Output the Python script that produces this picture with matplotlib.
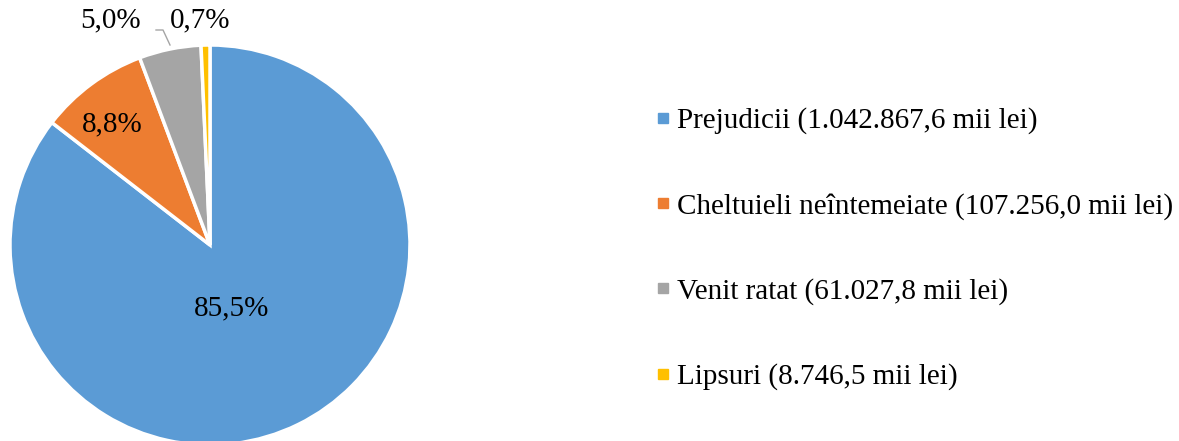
import matplotlib
matplotlib.use("Agg")
import matplotlib.pyplot as plt
from matplotlib.lines import Line2D

categories = ["Prejudicii (1.042.867,6 mii lei)",
              "Cheltuieli neîntemeiate (107.256,0 mii lei)",
              "Venit ratat (61.027,8 mii lei)",
              "Lipsuri (8.746,5 mii lei)"]
values = [1042867.6, 107256.0, 61027.8, 8746.5]
pct_labels = ["85,5%", "8,8%", "5,0%", "0,7%"]
colors = ["#5B9BD5", "#ED7D31", "#A5A5A5", "#FFC000"]

plt.rcParams["font.family"] = ["Liberation Serif", "DejaVu Serif"]

fig = plt.figure(figsize=(11.79, 4.41), dpi=100)
ax = fig.add_axes([10 / 1179, -4 / 441, 400 / 1179, 400 / 441])
wedges, _ = ax.pie(values, colors=colors, startangle=90, counterclock=False,
                   radius=1, wedgeprops=dict(edgecolor="white", linewidth=2.5))
ax.set_xlim(-1, 1)
ax.set_ylim(-1, 1)
ax.set_aspect("equal")
ax.axis("off")

# label positions (data coords)
pos = [(0.11, -0.315), (-0.49, 0.605), (-0.495, 1.125), (-0.05, 1.125)]
for (x, y), t in zip(pos, pct_labels):
    ax.text(x, y, t, ha="center", va="center", fontsize=21, color="black", clip_on=False)

# leader line for 5,0%
ax.plot([-0.27, -0.235, -0.20], [1.075, 1.075, 1.0], color="#A5A5A5", lw=1, clip_on=False)

handles = [Line2D([], [], marker="s", linestyle="", markersize=7, color=c) for c in colors]
fig.legend(handles, categories, loc="center left", bbox_to_anchor=(643 / 1179, 0.436),
           frameon=False, fontsize=21, labelspacing=2.0, handlelength=0.6,
           handletextpad=0.15, borderaxespad=0)

fig.savefig("out.png", dpi=100)
